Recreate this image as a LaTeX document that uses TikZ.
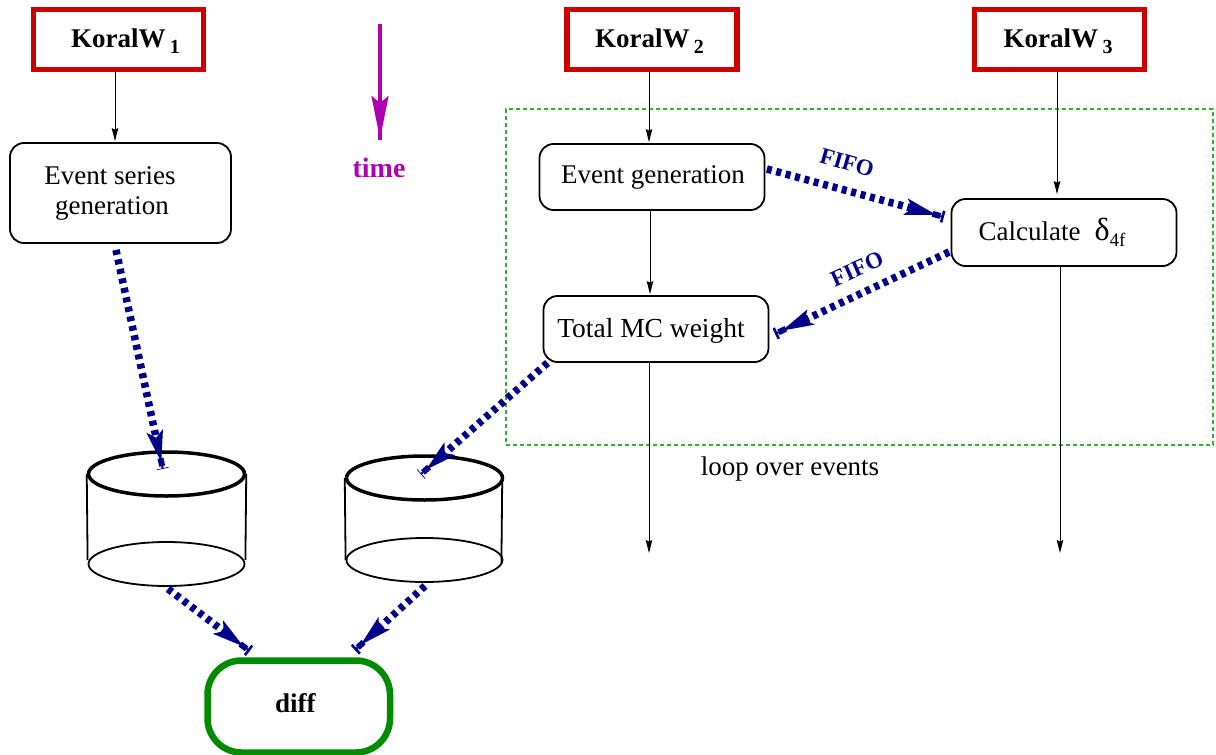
\documentclass[tikz,border=0pt]{standalone}
\usepackage{fontspec}
\setmainfont{Liberation Serif}
\usetikzlibrary{arrows.meta,shapes.geometric,calc}
\definecolor{fifoblue}{RGB}{0,0,139}
\definecolor{koralred}{RGB}{205,0,0}
\definecolor{diffgreen}{RGB}{0,139,0}
\definecolor{timepurple}{RGB}{176,0,176}
\definecolor{loopgreen}{RGB}{50,175,50}
\newcommand{\koraltext}[1]{\rule{0pt}{21.5pt}KoralW\,\raisebox{-6pt}{\fontsize{20}{20}\selectfont #1}}
\tikzset{
  x=1pt,y=-1pt,
  koral/.style={draw=koralred,line width=5.5pt,minimum width=170pt,minimum height=60pt,inner sep=0pt,font=\fontsize{27}{30}\selectfont\bfseries},
  proc/.style={draw=black,line width=1.8pt,rounded corners=14pt,inner sep=0pt,align=center,font=\fontsize{27}{30}\selectfont},
  flow/.style={draw=black,line width=1pt,-{Stealth[length=13pt,width=6.5pt,inset=1.5pt]}},
  fifoline/.style={draw=fifoblue,line width=7.5pt,dash pattern=on 5pt off 4.7pt},
  fifolabel/.style={text=fifoblue,font=\fontsize{23}{26}\selectfont\bfseries},
  disk/.style={draw=black,ellipse,minimum width=156pt,minimum height=44pt,inner sep=0pt},
}
% #1 bar line width, #2 start, #3 end
\newcommand{\fifoarrow}[3]{%
  \draw[fifoline] #2 -- ($#3!33pt!#2$);
  \path let \p1=#2, \p2=#3, \n1={atan2(\y2-\y1,\x2-\x1)} in \pgfextra{\xdef\fifoang{\n1}};
  \begin{scope}[shift={#3},rotate=\fifoang]
    \fill[fifoblue] (-8,0) -- (-40,8.5) -- (-33,0) -- (-40,-8.5) -- cycle;
    \fill[fifoblue] (-12,-3) rectangle (-4,3);
    \draw[fifoblue,line width=#1] (-1.5,-6) -- (-1.5,6);
    \fill[fifoblue] (-4,-1) rectangle (-1.5,1);
  \end{scope}%
}
\begin{document}
\begin{tikzpicture}
\useasboundingbox (0,0) rectangle (1216,755);
% loop frame
\node[draw=loopgreen,line width=1.2pt,dash pattern=on 4pt off 3pt,minimum width=707pt,minimum height=336pt,inner sep=0pt] (loop) at (859.5,277) {};
\node[font=\fontsize{27}{30}\selectfont] (looplabel) at (790,469) {loop over events};
% sources
\node[koral] (k1) at (118.5,39.5) {\hspace*{14pt}\koraltext{1}};
\node[koral] (k2) at (652,39.5) {\koraltext{2}\hspace*{5pt}};
\node[koral] (k3) at (1059.5,39.5) {\koraltext{3}\hspace*{3pt}};
% processes
\node[proc,minimum width=221pt,minimum height=100pt] (evt1) at (120.5,193) {Event series\hspace*{21pt}\\generation\hspace*{17pt}};
\node[proc,minimum width=225pt,minimum height=66pt] (evt2) at (652,177) {\hspace*{2pt}Event generation};
\node[proc,minimum width=225pt,minimum height=67pt] (calc) at (1064,232.5) {Calculate\hspace*{14pt}{\fontsize{32}{32}\selectfont δ}\raisebox{-6pt}{\fontsize{19}{19}\selectfont 4f}\hspace*{24pt}};
\node[proc,minimum width=225pt,minimum height=66pt] (mc) at (656,329) {\rule{0pt}{22.5pt}{\fontsize{27.5}{30}\selectfont Total MC weight}\hspace*{10pt}};
% time
\coordinate (t0) at (380,24);
\coordinate (t1) at (380,140);
\node[text=timepurple,font=\fontsize{28}{30}\selectfont\bfseries] (timel) at (379,168) {time};
\draw[draw=timepurple,line width=3.2pt] (t0) -- (t1);
\coordinate (t2) at (380,139);
\draw[draw=timepurple,line width=3.2pt,-{Stealth[length=43pt,width=17pt,inset=7pt]}] (t0) -- (t2);
% disks
\node[disk,line width=3.5pt] (d1top) at (166.5,474) {};
\node[disk,line width=1.8pt] (d1bot) at (166.5,564) {};
\draw[line width=1.8pt] (d1top.west) -- ([yshift=4pt]d1bot.west) (d1top.east) -- ([yshift=4pt]d1bot.east);
\node[disk,line width=3.5pt] (d2top) at (424.5,478) {};
\node[disk,line width=1.8pt] (d2bot) at (424.5,560) {};
\draw[line width=1.8pt] (d2top.west) -- (d2bot.west) ([xshift=-2pt]d2top.east) -- ([xshift=-2pt,yshift=-3pt]d2bot.east);
% diff
\node[draw=diffgreen,line width=6.5pt,rounded corners=34pt,minimum width=182.5pt,minimum height=92pt,inner sep=0pt,font=\fontsize{27}{30}\selectfont\bfseries] (diff) at (298.75,706.5) {\rule[-7pt]{0pt}{1pt}diff\hspace*{7pt}};
% thin flow
\draw[flow] ([xshift=-3.5pt]k1.south) -- ([xshift=-5.5pt,yshift=1pt]evt1.north);
\draw[flow] ([xshift=-3pt]k2.south) -- ([xshift=-3pt,yshift=1pt]evt2.north);
\draw[flow] ([xshift=-2pt]evt2.south) -- ([xshift=-6pt,yshift=1pt]mc.north);
\draw[flow] ([xshift=-2.5pt]k3.south) -- ([xshift=-7pt,yshift=4pt]calc.north);
\coordinate (end2) at (649,553);
\coordinate (end3) at (1060,553);
\draw[flow] ([xshift=-7pt]mc.south) -- (end2);
\draw[flow] ([xshift=-4pt]calc.south) -- (end3);
% fifo arrows
\coordinate (a1e) at (163,470);
\coordinate (a4e) at (420,475);
\fifoarrow{0.7pt}{([xshift=-4.5pt,yshift=-6pt]evt1.south)}{(a1e)}
\fifoarrow{2.6pt}{([xshift=1.5pt,yshift=8pt]evt2.east)}{([xshift=-6.5pt,yshift=15.5pt]calc.west)}
\fifoarrow{2.6pt}{([xshift=-1.5pt,yshift=-19.5pt]calc.west)}{([xshift=5.5pt,yshift=-5pt]mc.east)}
\fifoarrow{0.7pt}{([xshift=5pt]mc.south west)}{(a4e)}
\fifoarrow{2.6pt}{([xshift=1.5pt,yshift=-2pt]d1bot.south)}{([xshift=-49pt,yshift=6pt]diff.north)}
\fifoarrow{2.6pt}{([xshift=0.5pt,yshift=-3pt]d2bot.south)}{([xshift=56pt,yshift=7pt]diff.north)}
% labels
\node[fifolabel,rotate=-16] (f1) at (847,163) {FIFO};
\node[fifolabel,rotate=24] (f2) at (857,269) {FIFO};
\end{tikzpicture}
\end{document}
